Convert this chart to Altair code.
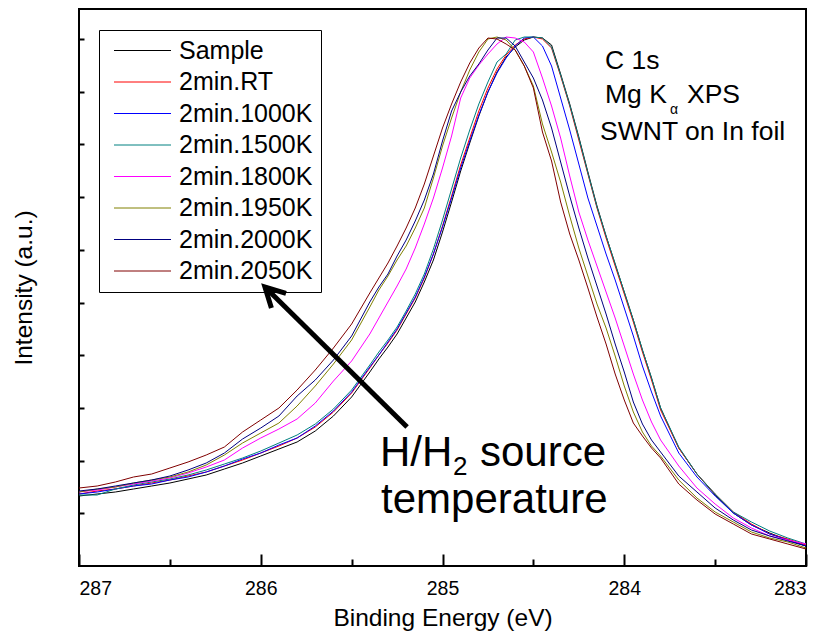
import altair as alt
import pandas as pd

# ---------------- data ----------------
energy = [287.0, 286.9, 286.8, 286.7, 286.6, 286.5, 286.4, 286.3, 286.2, 286.1, 286.0,
          285.9, 285.8, 285.7, 285.6, 285.5, 285.4,
          285.35, 285.3, 285.25, 285.2, 285.15, 285.1, 285.05, 285.0, 284.95, 284.9,
          284.85, 284.8, 284.75, 284.7, 284.65, 284.6, 284.55, 284.5, 284.45, 284.4,
          284.35, 284.3, 284.25, 284.2, 284.15, 284.1, 284.05, 284.0, 283.95, 283.9,
          283.85,
          283.8, 283.7, 283.6, 283.5, 283.4, 283.3, 283.2, 283.1, 283.0]

sample = [70, 72, 74, 77, 80, 83, 87, 91, 97, 103, 110, 117, 124, 135, 150, 169, 194,
          207, 219, 232, 248, 264, 284, 306, 334, 364, 395,
          423, 450, 474, 494, 509, 519, 526, 529, 528, 521,
          492, 462, 429, 394, 360, 330, 302, 274, 246, 216,
          188,
          158, 118, 92, 71, 53, 41, 33, 26, 20]
rt = [72, 75, 77, 80, 83, 86, 90, 94, 100, 106, 113, 120, 128, 139, 154, 173, 198,
      211, 223, 236, 252, 268, 288, 312, 340, 370, 401,
      428, 455, 478, 497, 511, 521, 527, 529, 527, 518,
      490, 460, 426, 392, 358, 328, 300, 272, 244, 214,
      186,
      156, 118, 92, 72, 54, 42, 32, 27, 21]
k1000 = [72, 74, 77, 80, 82, 86, 89, 94, 100, 107, 113, 121, 128, 140, 155, 174, 199,
         211, 224, 237, 253, 269, 289, 312, 339, 368, 398,
         425, 451, 474, 493, 508, 520, 528, 529, 520, 500,
         468, 436, 402, 368, 340, 312, 286, 258, 230, 200,
         174,
         150, 113, 89, 70, 53, 41, 32, 26, 20]
k1500 = [71, 71, 77, 81, 84, 87, 91, 96, 102, 108, 115, 123, 131, 142, 157, 176, 201,
         214, 226, 239, 255, 272, 292, 317, 346, 377, 408,
         436, 462, 484, 504, 512, 526, 529, 529, 528, 519,
         491, 461, 428, 393, 359, 330, 302, 274, 246, 216,
         188,
         158, 119, 92, 72, 54, 44, 35, 28, 22]
k1800 = [74, 76, 79, 82, 85, 88, 93, 99, 106, 118, 128, 137, 147, 163, 185, 205, 232,
         248, 264, 280, 297, 318, 342, 368, 398, 430, 468,
         488, 501, 512, 522, 529, 528, 524, 514, 488, 460,
         428, 390, 354, 326, 300, 274, 248, 220, 192, 166,
         144,
         126, 100, 78, 62, 48, 38, 30, 26, 22]
k1950 = [74, 77, 79, 83, 86, 89, 94, 101, 111, 123, 133, 143, 160, 180, 202, 226, 259,
         276, 290, 306, 320, 338, 358, 388, 420, 448, 474,
         496, 514, 527, 529, 526, 516, 500, 480, 442, 414,
         384, 350, 318, 290, 262, 238, 210, 180, 154, 134,
         120,
         110, 86, 68, 54, 44, 34, 28, 24, 18]
k2000 = [75, 77, 80, 83, 86, 90, 96, 103, 113, 127, 138, 150, 170, 186, 206, 230, 264,
         279, 292, 310, 326, 345, 366, 392, 425, 455, 474,
         490, 502, 516, 528, 528, 520, 504, 488, 466, 438,
         404, 370, 338, 308, 280, 252, 222, 194, 164, 142,
         126,
         114, 90, 74, 58, 46, 36, 30, 25, 20]
k2050 = [78, 80, 84, 89, 92, 98, 104, 111, 119, 134, 146, 158, 176, 196, 218, 242, 273,
         288, 303, 320, 338, 358, 382, 410, 438, 462, 484,
         503, 518, 528, 527, 522, 516, 500, 478, 434, 405,
         364, 332, 306, 278, 249, 222, 192, 166, 143, 130,
         118,
         108, 82, 66, 52, 42, 32, 27, 22, 17]

series_names = ["Sample", "2min.RT", "2min.1000K", "2min.1500K",
                "2min.1800K", "2min.1950K", "2min.2000K", "2min.2050K"]
series_values = [sample, rt, k1000, k1500, k1800, k1950, k2000, k2050]
series_colors = ["#000000", "#ff0000", "#0000ff", "#008080",
                 "#ff00ff", "#808000", "#000080", "#800000"]

major_ticks = [287, 286, 285, 284, 283]
minor_ticks = [286.5, 285.5, 284.5, 283.5]
y_tick_step = 52.7

# annotations (text, position in data units, font size)
annot_text = ["C 1s", "Mg K", "\u03b1", "XPS", "SWNT on In foil",
              "H/H", "2", "source", "temperature"]
annot_energy = [284.106, 284.106, 283.748, 283.655, 284.133,
                285.344, 284.942, 284.794, 285.338]
annot_intensity = [497, 463, 452, 463, 426, 100, 91, 100, 53]
annot_size = [26.5, 26.5, 14, 26.5, 26.5, 42, 26, 42, 42]

arrow_tail = (285.195, 139)
arrow_tip = (285.977, 279)

# ---------------- build tables ----------------
rows = []
for name, vals in zip(series_names, series_values):
    for e, v in zip(energy, vals):
        rows.append({"energy": e, "intensity": v, "series": name})
df = pd.DataFrame(rows)

annot = pd.DataFrame({"energy": annot_energy, "intensity": annot_intensity,
                      "label": annot_text, "fs": annot_size})
arrow_df = pd.DataFrame({"e1": [arrow_tail[0]], "i1": [arrow_tail[1]],
                         "e2": [arrow_tip[0]], "i2": [arrow_tip[1]]})

W, H = 727, 557
FONT = "Liberation Sans"

xscale = alt.Scale(domain=[283, 287], reverse=True, nice=False, zero=False)
yscale = alt.Scale(domain=[0, 557], nice=False, zero=False)
y_ticks = [round(y_tick_step * k, 2) for k in range(1, 11)]

lines = alt.Chart(df).mark_line(strokeWidth=1).encode(
    x=alt.X("energy:Q", scale=xscale,
            axis=alt.Axis(title="Binding Energy (eV)", values=major_ticks, format="d",
                          offset=-12, tickSize=12, tickWidth=2, tickColor="black",
                          domain=False, grid=False,
                          labelFont=FONT, labelFontSize=19.5, labelPadding=13,
                          labelColor="black", titleFont=FONT, titleFontSize=24.5,
                          titleFontWeight="normal", titlePadding=9, titleColor="black")),
    y=alt.Y("intensity:Q", scale=yscale,
            axis=alt.Axis(title="Intensity (a.u.)", values=y_ticks, labels=False,
                          offset=-5, tickSize=5, tickWidth=2, tickColor="black",
                          domain=False, grid=False, minExtent=0,
                          titleFont=FONT, titleFontSize=24.5, titleFontWeight="normal",
                          titlePadding=42, titleColor="black")),
    color=alt.Color("series:N",
                    scale=alt.Scale(domain=series_names, range=series_colors),
                    legend=alt.Legend(title=None, orient="none", legendX=20, legendY=21,
                                      direction="vertical", strokeColor="black",
                                      padding=8,
                                      symbolType="M-1.1,0H10.3", symbolSize=100,
                                      symbolStrokeWidth=1, labelFont=FONT,
                                      labelFontSize=25, labelColor="black",
                                      labelOffset=47, rowPadding=5.5, labelLimit=300)),
)

minor = alt.Chart(df).mark_line(opacity=0).encode(
    x=alt.X("energy:Q", scale=xscale,
            axis=alt.Axis(orient="top", offset=-H, values=minor_ticks, labels=False,
                          tickSize=7, tickWidth=2, tickColor="black", domain=False,
                          grid=False, title=None)),
    y=alt.Y("intensity:Q", scale=yscale, axis=None),
    detail="series:N",
)

shaft = alt.Chart(arrow_df).mark_rule(strokeWidth=5, color="black").encode(
    x=alt.X("e1:Q", scale=xscale, axis=None),
    x2="e2:Q",
    y=alt.Y("i1:Q", scale=yscale, axis=None),
    y2="i2:Q",
)

head = alt.Chart(arrow_df).mark_point(shape="M-0.53,1L0,0L0.53,1", size=1521,
                                      filled=False, stroke="black", strokeWidth=5,
                                      angle=315, opacity=1, strokeJoin="miter").encode(
    x=alt.X("e2:Q", scale=xscale, axis=None),
    y=alt.Y("i2:Q", scale=yscale, axis=None),
)

texts = alt.Chart(annot).mark_text(align="left", baseline="alphabetic", font=FONT,
                                   color="black").encode(
    x=alt.X("energy:Q", scale=xscale, axis=None),
    y=alt.Y("intensity:Q", scale=yscale, axis=None),
    text="label:N",
    size=alt.Size("fs:Q", scale=None, legend=None),
)

chart = alt.layer(lines, minor, shaft, head, texts).resolve_axis(
    x="independent", y="independent"
).properties(
    width=W, height=H,
    autosize=alt.AutoSizeParams(type="none"),
    padding={"left": 71, "top": 1, "right": 8, "bottom": 67},
).configure(font=FONT, background="white").configure_view(stroke="black", strokeWidth=2)

chart.save("out.html", embed_options={"renderer": "svg", "actions": False})
